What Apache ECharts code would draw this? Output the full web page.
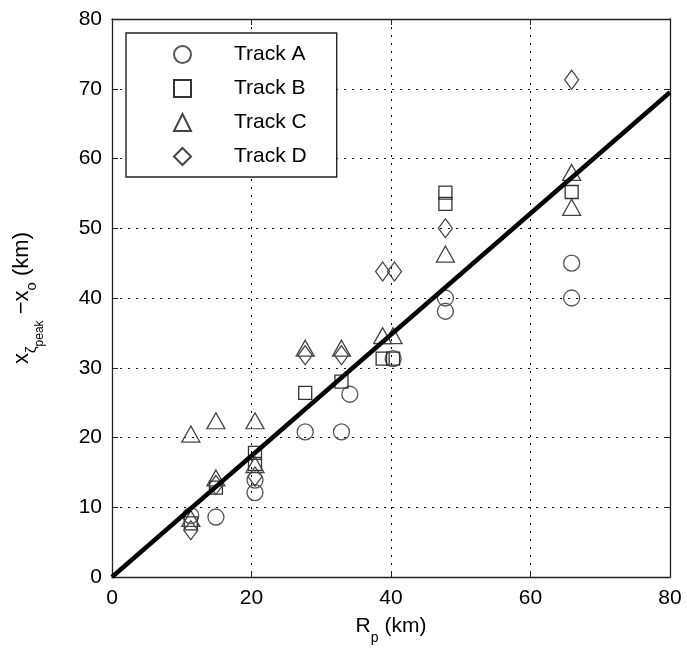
<!DOCTYPE html>
<html>
<head>
<meta charset="utf-8">
<script src="https://cdn.jsdelivr.net/npm/echarts@6/dist/echarts.min.js"></script>
<style>
html,body{margin:0;padding:0;background:#fff;}
#chart{width:687px;height:663px;}
</style>
</head>
<body>
<div id="chart"></div>
<script>
// ---- data ----
const trackA = [[11.3,8.8],[14.9,8.6],[20.5,12.1],[20.5,13.9],[27.7,20.8],[32.9,20.8],[34.1,26.2],[40.3,31.3],[47.8,40.0],[47.8,38.1],[65.9,45.0],[65.9,40.0]];
const trackB = [[11.3,7.7],[14.9,12.8],[20.5,17.8],[20.5,16.2],[27.7,26.4],[32.9,28.0],[38.8,31.3],[40.3,31.3],[47.8,55.1],[47.8,53.5],[65.9,55.2]];
const trackC = [[11.3,20.5],[11.3,8.4],[14.9,22.4],[14.9,14.2],[20.5,22.4],[20.5,16.1],[27.7,32.8],[32.9,32.8],[38.8,34.6],[40.3,34.6],[47.8,46.3],[65.9,58.0],[65.9,53.0]];
const trackD = [[11.3,6.7],[14.9,13.2],[20.5,14.4],[27.7,31.8],[32.9,31.8],[38.8,43.8],[40.5,43.8],[47.8,50.0],[65.9,71.3]];
const fitLine = [[0,0],[80,69.5]];
const seriesNames = ['Track A','Track B','Track C','Track D'];
const xTicks = [0,20,40,60,80];
const yTicks = [0,10,20,30,40,50,60,70,80];

const FONT = 'Liberation Sans, Arial, sans-serif';
const chart = echarts.init(document.getElementById('chart'), null, {renderer:'canvas'});

function marker(name, data, symbol, size, color){
  return {
    name, type:'scatter', data, symbol, symbolSize:size,
    xAxisIndex:0, yAxisIndex:0,
    itemStyle:{color:'rgba(0,0,0,0)', borderColor:color, borderWidth:1.3, opacity:1},
    emphasis:{disabled:true}, z:3
  };
}
const gridLine = {show:true, lineStyle:{color:'#000', type:[2,6], width:1}};
const option = {
  animation:false,
  backgroundColor:'#fff',
  grid:{left:112, right:17, top:19, bottom:86, show:false},
  legend:{
    orient:'vertical', left:126, top:33,
    data:seriesNames,
    backgroundColor:'#fff', borderColor:'#222', borderWidth:1.4,
    padding:[11,30,10,47],
    itemWidth:17, itemHeight:17, itemGap:13,
    textStyle:{fontFamily:FONT, fontSize:21, color:'#000', padding:[0,0,0,38], lineHeight:20},
    selectedMode:false
  },
  xAxis:[{
    type:'value', min:0, max:80, interval:20, position:'bottom',
    axisLine:{show:true, onZero:false, lineStyle:{color:'#222', width:1.3}},
    axisTick:{show:true, inside:true, length:6, lineStyle:{color:'#222'}},
    axisLabel:{fontFamily:FONT, fontSize:21, color:'#000', margin:11,
      formatter:v=>xTicks.includes(v)?String(v):''},
    splitLine:gridLine,
    name:'{m|R}{s|p}{m| (km)}', nameLocation:'middle', nameGap:39,
    nameTextStyle:{fontFamily:FONT, color:'#000',
      rich:{m:{fontFamily:FONT,fontSize:21,lineHeight:22,verticalAlign:'top',color:'#000'},
            s:{fontFamily:FONT,fontSize:14,lineHeight:14,padding:[15,0,0,0],verticalAlign:'top',color:'#000'}}}
  },{
    type:'value', min:0, max:80, interval:20, position:'top',
    axisLine:{show:true, onZero:false, lineStyle:{color:'#222', width:1.3}},
    axisTick:{show:true, inside:true, length:6, lineStyle:{color:'#222'}},
    axisLabel:{show:false}, splitLine:{show:false}
  }],
  yAxis:[{
    type:'value', min:0, max:80, interval:10, position:'left',
    axisLine:{show:true, onZero:false, lineStyle:{color:'#222', width:1.3}},
    axisTick:{show:true, inside:true, length:6, lineStyle:{color:'#222'}},
    axisLabel:{fontFamily:FONT, fontSize:21, color:'#000', margin:10,
      formatter:v=>yTicks.includes(v)?String(v):''},
    splitLine:gridLine,
    name:'{m|x}{s|ζ}{ss|peak}{m| −x}{s|o}{m| (km)}', nameLocation:'middle', nameGap:77, nameRotate:90,
    nameTextStyle:{fontFamily:FONT, color:'#000',
      rich:{m:{fontFamily:FONT,fontSize:22,lineHeight:24,verticalAlign:'top',color:'#000'},
            s:{fontFamily:FONT,fontSize:15,lineHeight:15,padding:[13,0,0,0],verticalAlign:'top',color:'#000'},
            ss:{fontFamily:FONT,fontSize:12,lineHeight:12,padding:[23,0,0,0],verticalAlign:'top',color:'#000'}}}
  },{
    type:'value', min:0, max:80, interval:10, position:'right',
    axisLine:{show:true, onZero:false, lineStyle:{color:'#222', width:1.3}},
    axisTick:{show:true, inside:true, length:6, lineStyle:{color:'#222'}},
    axisLabel:{show:false}, splitLine:{show:false}
  }],
  series:[
    marker('Track A', trackA, 'circle', 16, '#555'),
    marker('Track B', trackB, 'rect', 13, '#333'),
    marker('Track C', trackC, 'triangle', [18,16], '#444'),
    marker('Track D', trackD, 'diamond', [14,19], '#444'),
    {type:'line', data:fitLine, showSymbol:false, symbol:'none', xAxisIndex:0, yAxisIndex:0,
     lineStyle:{color:'#000', width:4.5}, z:5, silent:true, emphasis:{disabled:true}}
  ]
};
chart.setOption(option);
</script>
</body>
</html>
